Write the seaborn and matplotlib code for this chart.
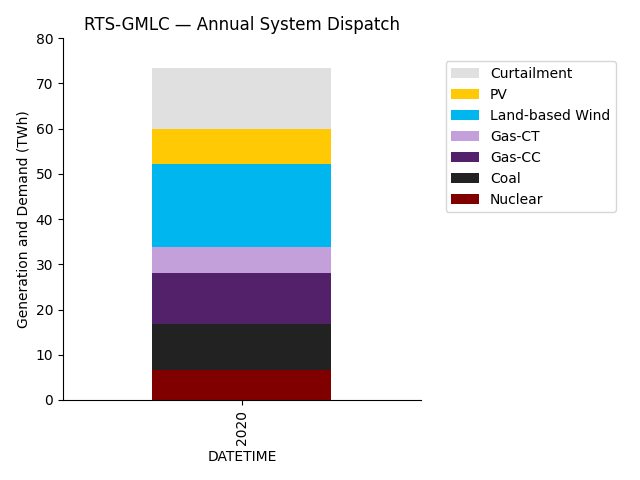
import numpy as np
import pandas as pd
import seaborn as sns
import matplotlib
matplotlib.use("Agg")
import matplotlib.pyplot as plt

# annual dispatch by technology (TWh), bottom to top
years = ["2020"]
techs = ["Nuclear", "Coal", "Gas-CC", "Gas-CT", "Land-based Wind", "PV", "Curtailment"]
twh = [6.7, 10.1, 11.3, 5.8, 18.2, 7.8, 13.5]
colors = ["#800000", "#222222", "#52216a", "#c3a0d9", "#00b6ef", "#ffc903", "#e0e0e0"]

# stacked -> cumulative tops
tops = np.cumsum(twh)
data = pd.DataFrame({"DATETIME": years * len(techs), "tech": techs, "top": tops})

fig = plt.figure(figsize=(6.4, 4.8), dpi=100)
ax = fig.add_axes([0.0984, 0.1667, 0.559, 0.754])

# draw the tallest first so the lower segments sit on top of it
for i in reversed(range(len(techs))):
    row = data.iloc[[i]]
    sns.barplot(x="DATETIME", y="top", data=row, color=colors[i],
                saturation=1, width=0.5, label=techs[i], ax=ax)

sns.despine(ax=ax)
ax.set_ylim(0, 80)
ax.set_xlim(-0.5, 0.5)
ax.set_xlabel("DATETIME")
ax.set_ylabel("Generation and Demand (TWh)")
ax.set_title("RTS-GMLC — Annual System Dispatch")
plt.setp(ax.get_xticklabels(), rotation=90)
ax.legend(loc="upper left", bbox_to_anchor=(1.05, 0.955))

fig.savefig("out.png", dpi=100)
